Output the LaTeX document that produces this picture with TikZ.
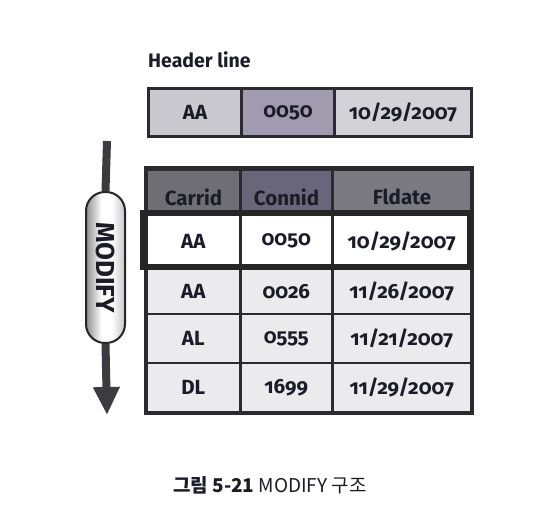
\documentclass[tikz,border=0pt]{standalone}
\usepackage{fontspec}
\setmainfont{Fira Sans}[Numbers=OldStyle]
\newfontfamily\kofont{Noto Sans CJK KR}
\usetikzlibrary{arrows.meta,shadings}
\definecolor{txt}{HTML}{1C1C28}
\definecolor{bord}{HTML}{2A2A30}
\definecolor{hlA}{HTML}{C9C9CF}
\definecolor{hlB}{HTML}{A09BB0}
\definecolor{hlC}{HTML}{D3D3D7}
\definecolor{thA}{HTML}{6E6E74}
\definecolor{thB}{HTML}{69657A}
\definecolor{thC}{HTML}{7A7A80}
\definecolor{rowc}{HTML}{EBEBED}
\definecolor{arr}{HTML}{3C3C40}
\definecolor{pillL}{HTML}{8E8E92}
\definecolor{pillR}{HTML}{C4C4C8}
\pgfdeclarehorizontalshading{pillshade}{100bp}{color(0bp)=(pillL); color(25bp)=(pillL); color(45bp)=(white); color(58bp)=(white); color(75bp)=(pillR); color(100bp)=(pillR)}
\tikzset{
  cell/.style={draw=bord, line width=2.5pt, inner sep=0pt, text=txt,
    font=\fontsize{20.5}{20.5}\selectfont\bfseries, anchor=north west},
  hd/.style={cell, minimum height=48pt, line width=3pt},
  th/.style={cell, minimum height=45pt, line width=3pt},
}
\newcommand{\lowr}[1]{\smash{\lower5pt\hbox{#1}}\vphantom{#1}}
\begin{document}
\begin{tikzpicture}[x=1pt,y=-1pt]
\useasboundingbox (0,0) rectangle (552,518);
\fill[white] (0,0) rectangle (552,518);
% header line title
\node[anchor=west, inner sep=0pt, font=\fontsize{19.5}{19.5}\selectfont\bfseries, text=txt] (title) at (148,60) {Header line};
% header line work area
\node[hd, fill=hlA, minimum width=93pt] (w1) at (147,87) {AA};
\node[hd, fill=hlB, minimum width=93pt] (w2) at (240,87) {0050};
\node[hd, fill=hlC, minimum width=137pt] (w3) at (333,87) {10/29/2007};
% table header
\node[th, fill=thA, minimum width=94pt] (c1) at (145,168) {\lowr{Carrid}};
\node[th, fill=thB, minimum width=92pt] (c2) at (239,168) {\lowr{Connid}};
\node[th, fill=thC, minimum width=139pt] (c3) at (331,168) {\lowr{Fldate}};
% rows
\node[cell, fill=rowc, minimum width=94pt, minimum height=46pt] (r21) at (145,267) {AA};
\node[cell, fill=rowc, minimum width=92pt, minimum height=46pt] (r22) at (239,267) {0026};
\node[cell, fill=rowc, minimum width=139pt, minimum height=46pt] (r23) at (331,267) {11/26/2007};
\node[cell, fill=rowc, minimum width=94pt, minimum height=49pt] (r31) at (145,313) {AL};
\node[cell, fill=rowc, minimum width=92pt, minimum height=49pt] (r32) at (239,313) {0555};
\node[cell, fill=rowc, minimum width=139pt, minimum height=49pt] (r33) at (331,313) {11/21/2007};
\node[cell, fill=rowc, minimum width=94pt, minimum height=49pt] (r41) at (145,362) {DL};
\node[cell, fill=rowc, minimum width=92pt, minimum height=49pt] (r42) at (239,362) {1699};
\node[cell, fill=rowc, minimum width=139pt, minimum height=49pt] (r43) at (331,362) {11/29/2007};
\draw[draw=bord, line width=3pt] (c1.north west) rectangle (r43.south east);
% highlighted row
\node[cell, fill=white, minimum width=94pt, minimum height=54pt] (r11) at (145,213) {AA};
\node[cell, fill=white, minimum width=92pt, minimum height=54pt] (r12) at (239,213) {0050};
\node[cell, fill=white, minimum width=139pt, minimum height=54pt] (r13) at (331,213) {10/29/2007};
\draw[draw=black!85, line width=6pt] (143,213) rectangle (470,267);
% MODIFY arrow
\coordinate (top) at (107,141);
\coordinate (tip) at (107,415);
\node[draw=black!85, line width=2pt, rounded corners=19pt, minimum width=39pt, minimum height=151pt,
  inner sep=0pt, shading=pillshade,
  text=txt, font=\fontsize{26}{26}\selectfont\bfseries] (pill) at (105.5,267.5) {\rotatebox{-90}{MODIFY}};
\draw[arr, line width=8pt] (top) -- (pill.north);
\draw[arr, line width=8pt, -{Triangle[width=25pt,length=28pt]}] (pill.south) -- (tip);
% caption
\node[font=\kofont\fontsize{19}{19}\selectfont, text=txt] (cap) at (270,485) {\textbf{그림 5-21} MODIFY 구조};
\end{tikzpicture}
\end{document}
